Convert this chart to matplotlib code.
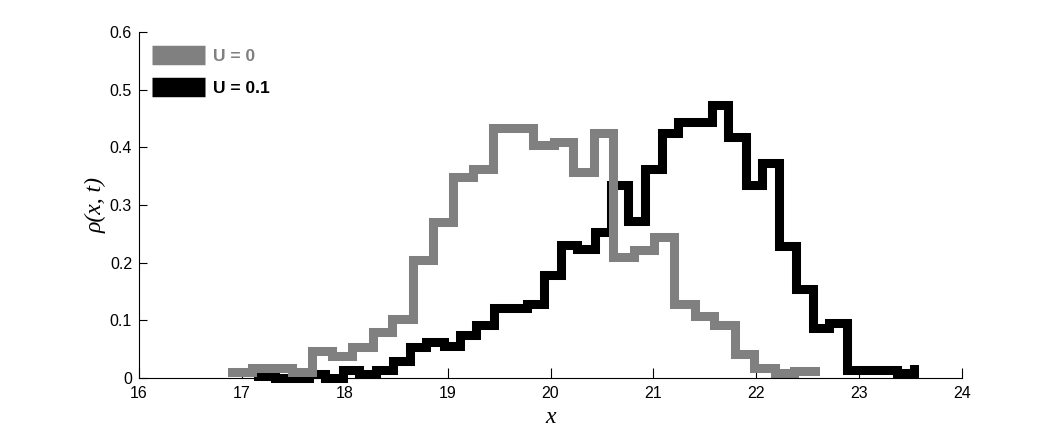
import matplotlib
matplotlib.use('Agg')
import matplotlib.pyplot as plt

# left edges of the bins (stairs style), U = 0
x_u0 = [16.90, 17.10, 17.29, 17.49, 17.68, 17.88, 18.07, 18.27, 18.46, 18.66,
        18.86, 19.05, 19.25, 19.44, 19.64, 19.83, 20.03, 20.22, 20.42, 20.61,
        20.81, 21.01, 21.20, 21.40, 21.59, 21.79, 21.98, 22.18, 22.37, 22.57]
rho_u0 = [0.011, 0.018, 0.018, 0.011, 0.046, 0.038, 0.054, 0.080, 0.102, 0.204,
          0.271, 0.348, 0.363, 0.434, 0.434, 0.404, 0.410, 0.357, 0.424, 0.210,
          0.222, 0.245, 0.128, 0.108, 0.092, 0.042, 0.018, 0.008, 0.012, 0.012]

# U = 0.1
x_u01 = [17.16, 17.32, 17.49, 17.65, 17.81, 17.98, 18.14, 18.30, 18.47, 18.63,
         18.79, 18.96, 19.12, 19.28, 19.45, 19.61, 19.77, 19.94, 20.10, 20.26,
         20.43, 20.59, 20.75, 20.92, 21.08, 21.24, 21.41, 21.57, 21.73, 21.90,
         22.06, 22.22, 22.39, 22.55, 22.71, 22.88, 23.04, 23.20, 23.37, 23.53]
rho_u01 = [0.004, 0.0, 0.0, 0.007, 0.0, 0.014, 0.007, 0.014, 0.030, 0.054,
           0.062, 0.055, 0.074, 0.092, 0.122, 0.122, 0.129, 0.178, 0.230, 0.223,
           0.254, 0.334, 0.272, 0.363, 0.425, 0.444, 0.444, 0.473, 0.418, 0.334,
           0.373, 0.229, 0.154, 0.086, 0.095, 0.014, 0.014, 0.014, 0.008, 0.015]

xticks = [16, 17, 18, 19, 20, 21, 22, 23, 24]
yticks = [0, 0.1, 0.2, 0.3, 0.4, 0.5, 0.6]
ytick_labels = ['0', '0.1', '0.2', '0.3', '0.4', '0.5', '0.6']

gray = '#808080'
plt.rcParams['font.family'] = ['Liberation Sans', 'DejaVu Sans']

fig = plt.figure(figsize=(10.63, 4.29), dpi=100)
ax = fig.add_axes([0.1308, 0.1189, 0.7742, 0.8065])

ax.step(x_u01, rho_u01, where='post', color='black', lw=6.5, label='U = 0.1',
        solid_joinstyle='miter', solid_capstyle='projecting', clip_on=False, zorder=3)
ax.step(x_u0, rho_u0, where='post', color=gray, lw=6.5, label='U = 0',
        solid_joinstyle='miter', solid_capstyle='projecting', clip_on=False, zorder=4)

ax.set_xlim(16, 24)
ax.set_ylim(0, 0.6)
ax.set_xticks(xticks)
ax.set_xticklabels([str(t) for t in xticks])
ax.set_yticks(yticks)
ax.set_yticklabels(ytick_labels)
ax.tick_params(direction='in', labelsize=11.5, width=0.8)
ax.tick_params(axis='x', length=7, pad=6)
ax.tick_params(axis='y', length=6, pad=5)

for s in ['top', 'right']:
    ax.spines[s].set_visible(False)
for s in ['left', 'bottom']:
    ax.spines[s].set_linewidth(0.8)
    ax.spines[s].set_zorder(5)

ax.set_xlabel('x', family='Liberation Serif', style='italic', fontsize=17)
ax.set_ylabel('ρ(x, t)', family='Liberation Serif', style='italic', fontsize=17)
ax.xaxis.set_label_coords(0.5, -0.085)
ax.yaxis.set_label_coords(-0.04, 0.5)

# legend: gray first
handles, labels = ax.get_legend_handles_labels()
leg = ax.legend(handles[::-1], labels[::-1], loc='upper left',
                bbox_to_anchor=(0.0158, 0.952), frameon=False,
                prop={'weight': 'bold', 'size': 12.5}, labelcolor='linecolor',
                handlelength=3.05, handletextpad=0.46, labelspacing=0.98,
                borderaxespad=0, borderpad=0)
for h in leg.legend_handles:
    h.set_linewidth(14)
    h.set_solid_capstyle('butt')

fig.savefig('out.png', dpi=100)
